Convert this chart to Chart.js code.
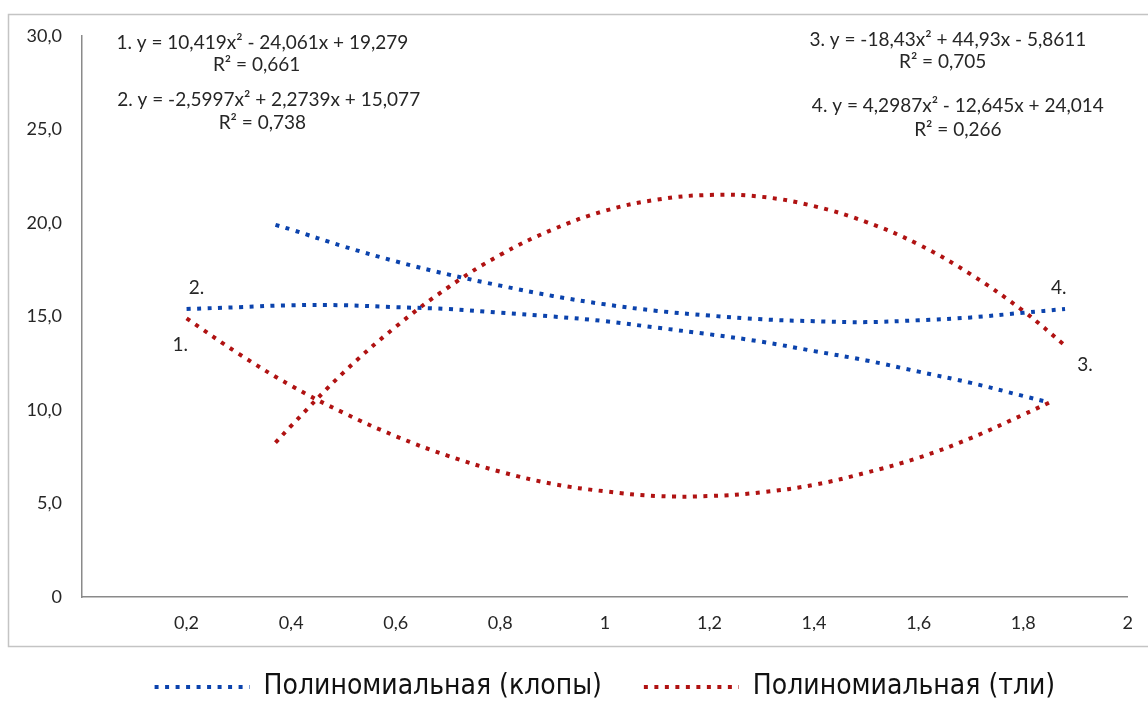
<!DOCTYPE html>
<html>
<head>
<meta charset="utf-8">
<script src="https://cdn.jsdelivr.net/npm/chart.js@4/dist/chart.umd.min.js"></script>
<style>
  html, body { margin: 0; padding: 0; background: #fff; }
  #wrap { width: 1148px; height: 706px; }
</style>
</head>
<body>
<div id="wrap"><canvas id="trendChart" width="1148" height="706"></canvas></div>
<script>
// x positions of the trend points
const xFirst = [0.2, 0.3, 0.4, 0.5, 0.6, 0.7, 0.8, 0.9, 1.0, 1.1, 1.2, 1.3, 1.4, 1.5, 1.6, 1.7, 1.8, 1.85];
const xSecond = [0.37, 0.4, 0.5, 0.6, 0.7, 0.8, 0.9, 1.0, 1.1, 1.2, 1.3, 1.4, 1.5, 1.6, 1.7, 1.8, 1.88];

// клопы (blue): curves 2 and 4
const klopy2 = [15.4, 15.5, 15.6, 15.6, 15.5, 15.4, 15.2, 15.0, 14.75, 14.4, 14.05, 13.65, 13.15, 12.65, 12.05, 11.45, 10.75, 10.4];
const klopy4 = [19.9, 19.65, 18.75, 17.95, 17.25, 16.65, 16.1, 15.65, 15.3, 15.05, 14.85, 14.75, 14.7, 14.8, 14.95, 15.2, 15.4];

// тли (red): curves 1 and 3
const tli1 = [14.9, 13.0, 11.3, 9.85, 8.6, 7.55, 6.7, 6.05, 5.65, 5.4, 5.4, 5.6, 6.0, 6.65, 7.45, 8.5, 9.75, 10.4];
const tli3 = [8.25, 9.15, 12.0, 14.45, 16.55, 18.3, 19.65, 20.65, 21.25, 21.5, 21.4, 20.9, 20.05, 18.85, 17.25, 15.3, 13.45];

const xTickLabels = ['', '0,2', '0,4', '0,6', '0,8', '1', '1,2', '1,4', '1,6', '1,8', '2'];
const yTickLabels = ['0', '5,0', '10,0', '15,0', '20,0', '25,0', '30,0'];

const seriesLabels = ['Полиномиальная (клопы)', 'Полиномиальная (тли)'];

const equations = [
  { text: '1. y = 10,419x² - 24,061x + 19,279', x: 0.345, y: 29.63 },
  { text: 'R² = 0,661', x: 0.334, y: 28.45 },
  { text: '2. y = -2,5997x² + 2,2739x + 15,077', x: 0.357, y: 26.58 },
  { text: 'R² = 0,738', x: 0.345, y: 25.35 },
  { text: '3. y = -18,43x² + 44,93x - 5,8611', x: 1.656, y: 29.79 },
  { text: 'R² = 0,705', x: 1.646, y: 28.61 },
  { text: '4. y = 4,2987x² - 12,645x + 24,014', x: 1.675, y: 26.26 },
  { text: 'R² = 0,266', x: 1.675, y: 24.97 },
  { text: '1.', x: 0.188, y: 13.48 },
  { text: '2.', x: 0.219, y: 16.52 },
  { text: '4.', x: 1.868, y: 16.52 },
  { text: '3.', x: 1.918, y: 12.41 }
];

const BLUE = '#0b43ad';
const RED = '#b01212';

function toPoints(xs, ys) {
  return xs.map((x, i) => ({ x: x, y: ys[i] }));
}

function dotted(label, xs, ys, colour) {
  return {
    label: label,
    data: toPoints(xs, ys),
    borderColor: colour,
    backgroundColor: colour,
    borderWidth: 4,
    borderDash: [4, 6.5],
    borderCapStyle: 'butt',
    pointRadius: 0,
    tension: 0.4,
    fill: false
  };
}

// frame round the whole chart + equation texts
const decorations = {
  id: 'decorations',
  beforeDraw(chart) {
    const ctx = chart.ctx;
    ctx.save();
    ctx.strokeStyle = '#c4c4c4';
    ctx.lineWidth = 1.5;
    ctx.strokeRect(8.5, 14.5, 1150, 632);
    ctx.restore();
  },
  afterDraw(chart) {
    const { ctx, scales } = chart;
    ctx.save();
    ctx.fillStyle = '#262626';
    ctx.font = '19px Lato';
    ctx.textAlign = 'center';
    ctx.textBaseline = 'middle';
    equations.forEach(e => {
      ctx.fillText(e.text, scales.x.getPixelForValue(e.x), scales.y.getPixelForValue(e.y));
    });
    ctx.restore();
  }
};

const ctx = document.getElementById('trendChart').getContext('2d');
new Chart(ctx, {
  type: 'line',
  data: {
    datasets: [
      dotted(seriesLabels[0], xFirst, klopy2, BLUE),
      dotted(seriesLabels[1], xFirst, tli1, RED),
      dotted(seriesLabels[0], xSecond, klopy4, BLUE),
      dotted(seriesLabels[1], xSecond, tli3, RED)
    ]
  },
  options: {
    responsive: false,
    animation: false,
    layout: { padding: { left: 8, right: 20, top: 36, bottom: 0 } },
    plugins: {
      tooltip: { enabled: false },
      title: { display: false },
      legend: {
        position: 'bottom',
        fullSize: false,
        maxHeight: 75,
        labels: {
          usePointStyle: true,
          pointStyle: 'line',
          pointStyleWidth: 95,
          padding: 42,
          color: '#111',
          font: { family: "'DejaVu Sans Condensed', 'Liberation Sans Narrow', sans-serif", size: 28 },
          // only the first two datasets, drawn with their own dotted line
          generateLabels: chart => Chart.defaults.plugins.legend.labels.generateLabels(chart)
            .filter(item => item.datasetIndex < 2)
            .map(item => {
              const ds = chart.data.datasets[item.datasetIndex];
              return Object.assign(item, {
                pointStyle: 'line',
                strokeStyle: ds.borderColor,
                lineWidth: ds.borderWidth,
                lineDash: ds.borderDash,
                lineCap: 'butt'
              });
            })
        }
      }
    },
    scales: {
      x: {
        type: 'linear',
        min: 0,
        max: 2,
        grid: { display: false, drawTicks: false },
        border: { display: true, color: '#8a8a8a', width: 1.5 },
        ticks: {
          stepSize: 0.2,
          padding: 15,
          color: '#262626',
          font: { family: 'Lato', size: 18 },
          maxRotation: 0,
          autoSkip: false,
          callback: (value, index) => xTickLabels[index]
        },
        afterFit: scale => { scale.height = 34; }
      },
      y: {
        min: 0,
        max: 30,
        grid: { display: false, drawTicks: false },
        border: { display: true, color: '#8a8a8a', width: 1.5 },
        ticks: {
          stepSize: 5,
          padding: 20,
          color: '#262626',
          font: { family: 'Lato', size: 18 },
          callback: (value, index) => yTickLabels[index]
        },
        afterFit: scale => { scale.width = 74; }
      }
    }
  },
  plugins: [decorations]
});
</script>
</body>
</html>
